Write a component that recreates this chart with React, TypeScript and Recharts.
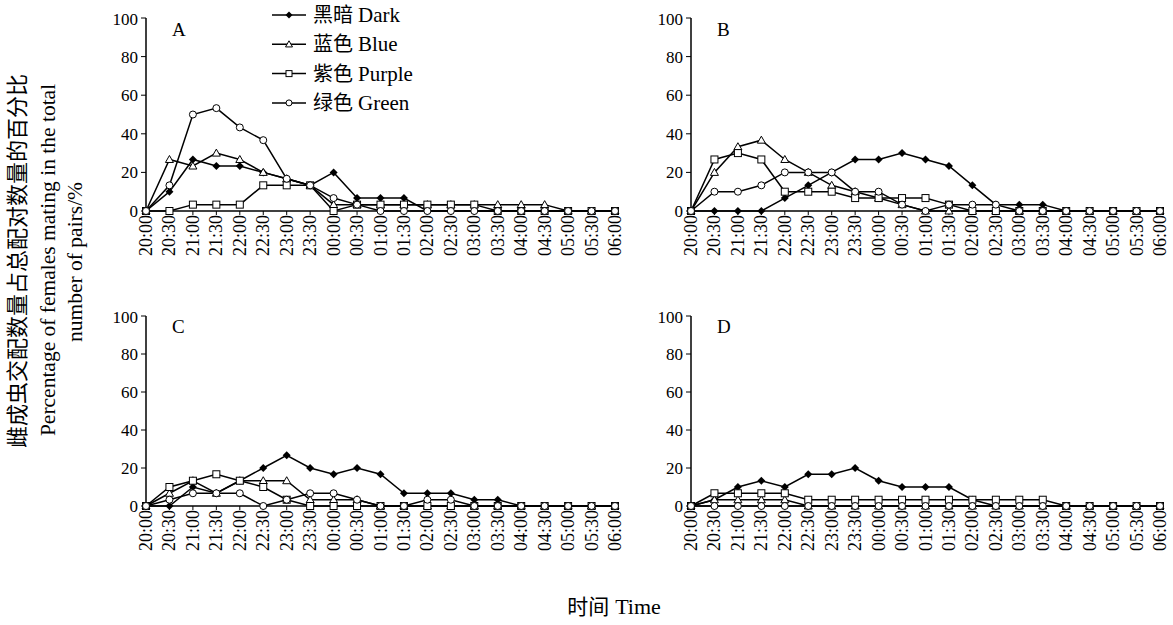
import React from "react";
import { LineChart, Line, XAxis, YAxis } from "recharts";

const times = [
  "20:00", "20:30", "21:00", "21:30", "22:00", "22:30", "23:00", "23:30",
  "00:00", "00:30", "01:00", "01:30", "02:00", "02:30", "03:00", "03:30",
  "04:00", "04:30", "05:00", "05:30", "06:00",
];
const yTicks = [0, 20, 40, 60, 80, 100];

// panel A
const darkA = [0, 10, 26.7, 23.3, 23.3, 20, 16.7, 13.3, 20, 6.7, 6.7, 6.7, 0, 0, 0, 0, 0, 0, 0, 0, 0];
const blueA = [0, 26.7, 23.3, 30, 26.7, 20, 16.7, 13.3, 3.3, 3.3, 3.3, 3.3, 3.3, 3.3, 3.3, 3.3, 3.3, 3.3, 0, 0, 0];
const purpleA = [0, 0, 3.3, 3.3, 3.3, 13.3, 13.3, 13.3, 0, 3.3, 3.3, 3.3, 3.3, 3.3, 3.3, 0, 0, 0, 0, 0, 0];
const greenA = [0, 13.3, 50, 53.3, 43.3, 36.7, 16.7, 13.3, 6.7, 3.3, 0, 0, 0, 0, 0, 0, 0, 0, 0, 0, 0];

// panel B
const darkB = [0, 0, 0, 0, 6.7, 13.3, 20, 26.7, 26.7, 30, 26.7, 23.3, 13.3, 3.3, 3.3, 3.3, 0, 0, 0, 0, 0];
const blueB = [0, 20, 33.3, 36.7, 26.7, 20, 13.3, 10, 6.7, 3.3, 0, 0, 0, 0, 0, 0, 0, 0, 0, 0, 0];
const purpleB = [0, 26.7, 30, 26.7, 10, 10, 10, 6.7, 6.7, 6.7, 6.7, 3.3, 0, 0, 0, 0, 0, 0, 0, 0, 0];
const greenB = [0, 10, 10, 13.3, 20, 20, 20, 10, 10, 3.3, 0, 3.3, 3.3, 3.3, 0, 0, 0, 0, 0, 0, 0];

// panel C
const darkC = [0, 0, 10, 6.7, 13.3, 20, 26.7, 20, 16.7, 20, 16.7, 6.7, 6.7, 6.7, 3.3, 3.3, 0, 0, 0, 0, 0];
const blueC = [0, 6.7, 13.3, 6.7, 13.3, 13.3, 13.3, 3.3, 3.3, 3.3, 0, 0, 0, 0, 0, 0, 0, 0, 0, 0, 0];
const purpleC = [0, 10, 13.3, 16.7, 13.3, 10, 3.3, 0, 0, 0, 0, 0, 0, 0, 0, 0, 0, 0, 0, 0, 0];
const greenC = [0, 3.3, 6.7, 6.7, 6.7, 0, 3.3, 6.7, 6.7, 3.3, 0, 0, 3.3, 3.3, 0, 0, 0, 0, 0, 0, 0];

// panel D
const darkD = [0, 3.3, 10, 13.3, 10, 16.7, 16.7, 20, 13.3, 10, 10, 10, 3.3, 0, 0, 0, 0, 0, 0, 0, 0];
const blueD = [0, 3.3, 3.3, 3.3, 3.3, 0, 0, 0, 0, 0, 0, 0, 0, 0, 0, 0, 0, 0, 0, 0, 0];
const purpleD = [0, 6.7, 6.7, 6.7, 6.7, 3.3, 3.3, 3.3, 3.3, 3.3, 3.3, 3.3, 3.3, 3.3, 3.3, 3.3, 0, 0, 0, 0, 0];
const greenD = [0, 0, 0, 0, 0, 0, 0, 0, 0, 0, 0, 0, 0, 0, 0, 0, 0, 0, 0, 0, 0];

const SERIF = "'Liberation Serif', 'Times New Roman', serif";
const CJK = "'Noto Sans CJK SC', sans-serif";

const rows = (dark: number[], blue: number[], purple: number[], green: number[]) =>
  times.map((t, i) => ({ time: t, dark: dark[i], blue: blue[i], purple: purple[i], green: green[i] }));

const diamond = (cx: number, cy: number, r: number) =>
  `M${cx},${cy - r} L${cx + r},${cy} L${cx},${cy + r} L${cx - r},${cy} Z`;
const triangle = (cx: number, cy: number, r: number) =>
  `M${cx},${cy - r} L${cx + r},${cy + r * 0.75} L${cx - r},${cy + r * 0.75} Z`;

const DarkDot = (p: any) =>
  p.cx == null ? null : <path key={`d${p.index}`} d={diamond(p.cx, p.cy, 4)} fill="#000" />;
const BlueDot = (p: any) =>
  p.cx == null ? null : (
    <path key={`b${p.index}`} d={triangle(p.cx, p.cy, 4)} fill="#fff" stroke="#000" strokeWidth={1} />
  );
const PurpleDot = (p: any) =>
  p.cx == null ? null : (
    <rect key={`p${p.index}`} x={p.cx - 3.5} y={p.cy - 3.5} width={7} height={7} fill="#fff" stroke="#000" strokeWidth={1} />
  );
const GreenDot = (p: any) =>
  p.cx == null ? null : (
    <circle key={`g${p.index}`} cx={p.cx} cy={p.cy} r={3.5} fill="#fff" stroke="#000" strokeWidth={1} />
  );

const TimeTick = (p: any) => (
  <g transform={`translate(${p.x},${p.y})`}>
    <text
      transform="rotate(-90)"
      x={0}
      y={0}
      dy={6}
      textAnchor="end"
      fontSize={18}
      fill="#000"
      style={{ fontFamily: SERIF }}
    >
      {p.payload.value}
    </text>
  </g>
);

const NumTick = (p: any) => (
  <text x={p.x} y={p.y} dy={6} textAnchor="end" fontSize={17} fill="#000" style={{ fontFamily: SERIF }}>
    {p.payload.value}
  </text>
);

function Panel({ data, left, top, plotH }: { data: any[]; left: number; top: number; plotH: number }) {
  return (
    <div style={{ position: "absolute", left, top }}>
      <LineChart width={525} height={8 + plotH + 90} data={data} margin={{ top: 8, right: 10, bottom: 0, left: 0 }}>
        <XAxis
          dataKey="time"
          interval={0}
          height={90}
          tick={<TimeTick />}
          tickSize={4}
          tickMargin={0}
          stroke="#000"
          axisLine={{ stroke: "#000", strokeWidth: 1.5 }}
          tickLine={{ stroke: "#000" }}
        />
        <YAxis
          domain={[0, 100]}
          ticks={yTicks}
          width={46}
          tickSize={5}
          tickMargin={3}
          stroke="#000"
          axisLine={{ stroke: "#000", strokeWidth: 1.5 }}
          tickLine={{ stroke: "#000" }}
          tick={<NumTick />}
        />
        <Line type="linear" dataKey="dark" stroke="#000" strokeWidth={1.5} dot={DarkDot} isAnimationActive={false} />
        <Line type="linear" dataKey="blue" stroke="#000" strokeWidth={1.5} dot={BlueDot} isAnimationActive={false} />
        <Line type="linear" dataKey="purple" stroke="#000" strokeWidth={1.5} dot={PurpleDot} isAnimationActive={false} />
        <Line type="linear" dataKey="green" stroke="#000" strokeWidth={1.5} dot={GreenDot} isAnimationActive={false} />
      </LineChart>
    </div>
  );
}

const legendItems = [
  { zh: "黑暗", en: "Dark", kind: "dark" },
  { zh: "蓝色", en: "Blue", kind: "blue" },
  { zh: "紫色", en: "Purple", kind: "purple" },
  { zh: "绿色", en: "Green", kind: "green" },
];

const LegendMark = ({ kind, cx, cy }: { kind: string; cx: number; cy: number }) => {
  if (kind === "dark") return <path d={diamond(cx, cy, 3.5)} fill="#000" />;
  if (kind === "blue") return <path d={triangle(cx, cy, 3.5)} fill="#fff" stroke="#000" />;
  if (kind === "purple") return <rect x={cx - 3} y={cy - 3} width={6} height={6} fill="#fff" stroke="#000" />;
  return <circle cx={cx} cy={cy} r={3} fill="#fff" stroke="#000" />;
};

export default function App() {
  return (
    <div style={{ position: "absolute", left: 0, top: 0, width: 1173, height: 625, background: "#fff", fontFamily: SERIF }}>
      <Panel data={rows(darkA, blueA, purpleA, greenA)} left={100} top={10} plotH={193} />
      <Panel data={rows(darkB, blueB, purpleB, greenB)} left={645} top={10} plotH={193} />
      <Panel data={rows(darkC, blueC, purpleC, greenC)} left={100} top={308} plotH={190} />
      <Panel data={rows(darkD, blueD, purpleD, greenD)} left={645} top={308} plotH={190} />
      <svg width={1173} height={625} style={{ position: "absolute", left: 0, top: 0, pointerEvents: "none" }}>
        <g fill="#000" style={{ fontFamily: SERIF }}>
          <text x={172} y={36} fontSize={19}>A</text>
          <text x={717} y={36} fontSize={19}>B</text>
          <text x={172} y={333} fontSize={19}>C</text>
          <text x={717} y={333} fontSize={19}>D</text>
          {legendItems.map((it, i) => {
            const y = 15 + i * 29.3;
            return (
              <g key={it.kind}>
                <line x1={272} x2={306} y1={y} y2={y} stroke="#000" strokeWidth={1.5} />
                <LegendMark kind={it.kind} cx={289} cy={y} />
                <text x={313} y={y + 7} fontSize={20}>
                  <tspan style={{ fontFamily: CJK }}>{it.zh}</tspan>
                  <tspan dx={5} fontSize={21} style={{ fontFamily: SERIF }}>{it.en}</tspan>
                </text>
              </g>
            );
          })}
          <text
            transform="translate(25,261) rotate(-90)"
            textAnchor="middle"
            fontSize={22}
            style={{ fontFamily: CJK }}
          >
            雌成虫交配数量占总配对数量的百分比
          </text>
          <text transform="translate(55,260) rotate(-90)" textAnchor="middle" fontSize={21.5}>
            Percentage of females mating in the total
          </text>
          <text transform="translate(82,262) rotate(-90)" textAnchor="middle" fontSize={21.5}>
            number of pairs/%
          </text>
          <text x={614} y={614} textAnchor="middle" fontSize={21}>
            <tspan style={{ fontFamily: CJK }}>时间</tspan>
            <tspan dx={6} fontSize={22} style={{ fontFamily: SERIF }}>Time</tspan>
          </text>
        </g>
      </svg>
    </div>
  );
}
